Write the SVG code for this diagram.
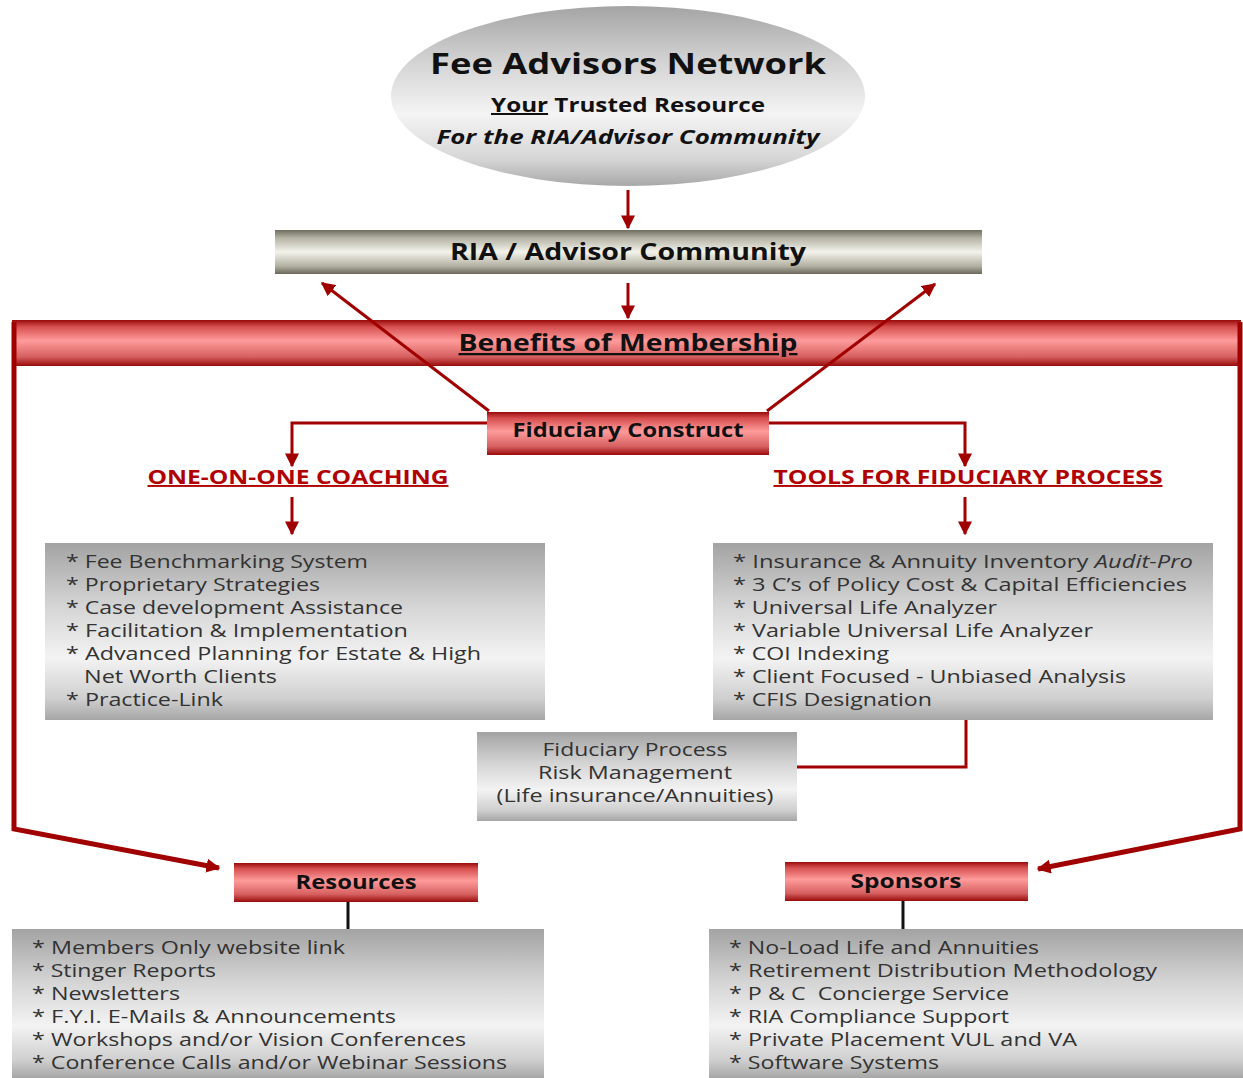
<svg xmlns="http://www.w3.org/2000/svg" width="1243" height="1078" viewBox="0 0 1243 1078">
<defs>
  <linearGradient id="gEll" x1="0" y1="0" x2="0" y2="1">
    <stop offset="0" stop-color="#a4a4a4"/>
    <stop offset="0.3" stop-color="#d2d2d2"/>
    <stop offset="0.6" stop-color="#f4f4f4"/>
    <stop offset="0.85" stop-color="#d6d6d6"/>
    <stop offset="1" stop-color="#a8a8a8"/>
  </linearGradient>
  <linearGradient id="gOlive" x1="0" y1="0" x2="0" y2="1">
    <stop offset="0" stop-color="#6f6d5e"/>
    <stop offset="0.18" stop-color="#b5b3a4"/>
    <stop offset="0.5" stop-color="#f3f3ec"/>
    <stop offset="0.82" stop-color="#b2b0a1"/>
    <stop offset="1" stop-color="#6a685a"/>
  </linearGradient>
  <linearGradient id="gRed" x1="0" y1="0" x2="0" y2="1">
    <stop offset="0" stop-color="#9a0a0a"/>
    <stop offset="0.15" stop-color="#d75050"/>
    <stop offset="0.45" stop-color="#ff9b9b"/>
    <stop offset="0.8" stop-color="#d66060"/>
    <stop offset="1" stop-color="#9a0a0a"/>
  </linearGradient>
  <linearGradient id="gGray" x1="0" y1="0" x2="0" y2="1">
    <stop offset="0" stop-color="#a3a3a3"/>
    <stop offset="0.35" stop-color="#d4d4d4"/>
    <stop offset="0.65" stop-color="#f3f3f3"/>
    <stop offset="0.88" stop-color="#cfcfcf"/>
    <stop offset="1" stop-color="#a6a6a6"/>
  </linearGradient>
  <marker id="arr" viewBox="0 0 10 10" refX="9" refY="5" markerWidth="14" markerHeight="14" markerUnits="userSpaceOnUse" orient="auto">
    <path d="M0,0 L10,5 L0,10 z" fill="#a00000"/>
  </marker>
  <style>
    text { font-family: "Open Sans", "Liberation Sans", sans-serif; }
    .b { font-weight: bold; fill: #111; }
    .red { font-weight: bold; fill: #b00000; text-decoration: underline; }
    .li { font-size: 18px; fill: #333; }
    .c { stroke: #a00000; stroke-width: 3; fill: none; }
    .frame { stroke: #a00000; stroke-width: 5; fill: none; stroke-linejoin: miter; }
    .blk { stroke: #111; stroke-width: 3; }
  </style>
</defs>
<rect width="1243" height="1078" fill="#ffffff"/>

<g id="fee-advisors-network">
  <ellipse cx="628" cy="96" rx="237" ry="90" fill="url(#gEll)"/>
  <text class="b" x="628" y="74" font-size="28" text-anchor="middle" textLength="396" lengthAdjust="spacingAndGlyphs">Fee Advisors Network</text>
  <text class="b" x="628" y="112" font-size="20" text-anchor="middle" textLength="274" lengthAdjust="spacingAndGlyphs"><tspan text-decoration="underline">Your</tspan> Trusted Resource</text>
  <text class="b" x="628" y="144" font-size="20" font-style="italic" text-anchor="middle" textLength="383" lengthAdjust="spacingAndGlyphs">For the RIA/Advisor Community</text>
</g>

<g id="ria-community">
  <rect x="275" y="230" width="707" height="44" fill="url(#gOlive)"/>
  <text class="b" x="628" y="260" font-size="23" text-anchor="middle" textLength="356" lengthAdjust="spacingAndGlyphs">RIA / Advisor Community</text>
</g>

<g id="benefits">
  <rect x="12" y="320" width="1229" height="46" fill="url(#gRed)"/>
  <text class="b" x="628" y="351" font-size="23" text-anchor="middle" text-decoration="underline" textLength="339" lengthAdjust="spacingAndGlyphs">Benefits of Membership</text>
</g>

<g id="fiduciary-construct">
  <rect x="487" y="412" width="282" height="43" fill="url(#gRed)"/>
  <text class="b" x="628" y="437" font-size="19" text-anchor="middle" textLength="231" lengthAdjust="spacingAndGlyphs">Fiduciary Construct</text>
</g>

<g id="coaching-label">
  <text class="red" x="298" y="484" font-size="19" text-anchor="middle" textLength="301" lengthAdjust="spacingAndGlyphs">ONE-ON-ONE COACHING</text>
</g>

<g id="tools-label">
  <text class="red" x="968" y="484" font-size="19" text-anchor="middle" textLength="389" lengthAdjust="spacingAndGlyphs">TOOLS FOR FIDUCIARY PROCESS</text>
</g>

<g id="coaching-list">
  <rect x="45" y="543" width="500" height="177" fill="url(#gGray)"/>
  <text class="li" x="66" y="568" textLength="302" lengthAdjust="spacingAndGlyphs">* Fee Benchmarking System</text>
  <text class="li" x="66" y="591" textLength="254" lengthAdjust="spacingAndGlyphs">* Proprietary Strategies</text>
  <text class="li" x="66" y="614" textLength="337" lengthAdjust="spacingAndGlyphs">* Case development Assistance</text>
  <text class="li" x="66" y="637" textLength="342" lengthAdjust="spacingAndGlyphs">* Facilitation &amp; Implementation</text>
  <text class="li" x="66" y="660" textLength="415" lengthAdjust="spacingAndGlyphs">* Advanced Planning for Estate &amp; High</text>
  <text class="li" x="84" y="683" textLength="193" lengthAdjust="spacingAndGlyphs">Net Worth Clients</text>
  <text class="li" x="66" y="706" textLength="157" lengthAdjust="spacingAndGlyphs">* Practice-Link</text>
</g>

<g id="tools-list">
  <rect x="713" y="543" width="500" height="177" fill="url(#gGray)"/>
  <text class="li" x="733" y="568" textLength="460" lengthAdjust="spacingAndGlyphs">* Insurance &amp; Annuity Inventory <tspan font-style="italic">Audit-Pro</tspan></text>
  <text class="li" x="733" y="591" textLength="454" lengthAdjust="spacingAndGlyphs">* 3 C’s of Policy Cost &amp; Capital Efficiencies</text>
  <text class="li" x="733" y="614" textLength="264" lengthAdjust="spacingAndGlyphs">* Universal Life Analyzer</text>
  <text class="li" x="733" y="637" textLength="360" lengthAdjust="spacingAndGlyphs">* Variable Universal Life Analyzer</text>
  <text class="li" x="733" y="660" textLength="156" lengthAdjust="spacingAndGlyphs">* COI Indexing</text>
  <text class="li" x="733" y="683" textLength="393" lengthAdjust="spacingAndGlyphs">* Client Focused - Unbiased Analysis</text>
  <text class="li" x="733" y="706" textLength="199" lengthAdjust="spacingAndGlyphs">* CFIS Designation</text>
</g>

<g id="fiduciary-process">
  <rect x="477" y="732" width="320" height="89" fill="url(#gGray)"/>
  <text class="li" x="635" y="756" text-anchor="middle" textLength="185" lengthAdjust="spacingAndGlyphs">Fiduciary Process</text>
  <text class="li" x="635" y="779" text-anchor="middle" textLength="194" lengthAdjust="spacingAndGlyphs">Risk Management</text>
  <text class="li" x="635" y="802" text-anchor="middle" textLength="277" lengthAdjust="spacingAndGlyphs">(Life insurance/Annuities)</text>
</g>

<g id="resources">
  <rect x="234" y="863" width="244" height="39" fill="url(#gRed)"/>
  <text class="b" x="356" y="889" font-size="19" text-anchor="middle" textLength="121" lengthAdjust="spacingAndGlyphs">Resources</text>
</g>

<g id="sponsors">
  <rect x="785" y="862" width="243" height="39" fill="url(#gRed)"/>
  <text class="b" x="906" y="888" font-size="19" text-anchor="middle" textLength="111" lengthAdjust="spacingAndGlyphs">Sponsors</text>
</g>

<g id="resources-list">
  <rect x="12" y="929" width="532" height="149" fill="url(#gGray)"/>
  <text class="li" x="32" y="954" textLength="313" lengthAdjust="spacingAndGlyphs">* Members Only website link</text>
  <text class="li" x="32" y="977" textLength="184" lengthAdjust="spacingAndGlyphs">* Stinger Reports</text>
  <text class="li" x="32" y="1000" textLength="148" lengthAdjust="spacingAndGlyphs">* Newsletters</text>
  <text class="li" x="32" y="1023" textLength="364" lengthAdjust="spacingAndGlyphs">* F.Y.I. E-Mails &amp; Announcements</text>
  <text class="li" x="32" y="1046" textLength="434" lengthAdjust="spacingAndGlyphs">* Workshops and/or Vision Conferences</text>
  <text class="li" x="32" y="1069" textLength="475" lengthAdjust="spacingAndGlyphs">* Conference Calls and/or Webinar Sessions</text>
</g>

<g id="sponsors-list">
  <rect x="709" y="929" width="534" height="149" fill="url(#gGray)"/>
  <text class="li" x="729" y="954" textLength="310" lengthAdjust="spacingAndGlyphs">* No-Load Life and Annuities</text>
  <text class="li" x="729" y="977" textLength="428" lengthAdjust="spacingAndGlyphs">* Retirement Distribution Methodology</text>
  <text class="li" x="729" y="1000" textLength="280" lengthAdjust="spacingAndGlyphs" xml:space="preserve">* P &amp; C  Concierge Service</text>
  <text class="li" x="729" y="1023" textLength="280" lengthAdjust="spacingAndGlyphs">* RIA Compliance Support</text>
  <text class="li" x="729" y="1046" textLength="348" lengthAdjust="spacingAndGlyphs">* Private Placement VUL and VA</text>
  <text class="li" x="729" y="1069" textLength="210" lengthAdjust="spacingAndGlyphs">* Software Systems</text>
</g>

<g id="connectors">
  <line class="c" x1="628" y1="190" x2="628" y2="228" marker-end="url(#arr)"/>
  <line class="c" x1="628" y1="283" x2="628" y2="318" marker-end="url(#arr)"/>
  <line class="c" x1="489" y1="411" x2="322" y2="283" marker-end="url(#arr)"/>
  <line class="c" x1="767" y1="411" x2="935" y2="284" marker-end="url(#arr)"/>
  <polyline class="c" points="487,423 292,423 292,466" marker-end="url(#arr)"/>
  <polyline class="c" points="769,423 965,423 965,466" marker-end="url(#arr)"/>
  <line class="c" x1="292" y1="497" x2="292" y2="534" marker-end="url(#arr)"/>
  <line class="c" x1="965" y1="497" x2="965" y2="534" marker-end="url(#arr)"/>
  <polyline class="c" points="966,720 966,767 797,767"/>
  <polyline class="frame" points="14,322 14,829 219,868" marker-end="url(#arr)"/>
  <polyline class="frame" points="1240,322 1240,829 1038,869" marker-end="url(#arr)"/>
  <line class="blk" x1="348" y1="902" x2="348" y2="929"/>
  <line class="blk" x1="903" y1="901" x2="903" y2="929"/>
</g>
</svg>
